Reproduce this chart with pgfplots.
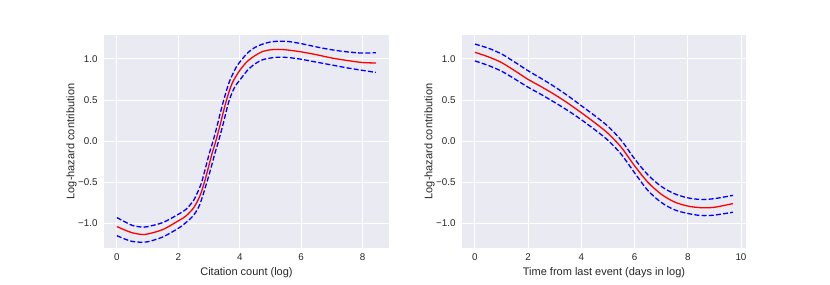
\documentclass[border=0pt]{standalone}
\usepackage{pgfplots}
\pgfplotsset{compat=1.18}
\usepackage{fontspec}
\setmainfont{Liberation Sans}
\definecolor{sbbg}{HTML}{EAEAF2}
\definecolor{sbtext}{HTML}{262626}
\pgfplotsset{sb/.style={
  scale only axis, width=285pt, height=213pt,
  axis background/.style={fill=sbbg},
  axis line style={draw=none},
  major tick length=0pt,
  grid=major, major grid style={white, line width=0.9pt},
  ymin=-1.30, ymax=1.29,
  ytick={-1,-0.5,0,0.5,1}, yticklabels={−1.0,−0.5,0.0,0.5,1.0},
  tick label style={font=\fontsize{9.8}{11}\selectfont, text=sbtext},
  yticklabel style={xshift=-3pt},
  xticklabel style={yshift=-2pt},
  label style={font=\fontsize{11}{13}\selectfont, text=sbtext},
  ylabel={Log-hazard contribution},
  ylabel style={at={(axis description cs:-0.114,0.5)}, anchor=center},
  every axis plot/.append style={line width=1.3pt, smooth},
  est/.style={red},
  ci/.style={blue, dash pattern=on 5pt off 2.2pt},
}}
\begin{document}
\begin{tikzpicture}
\useasboundingbox (0,0) rectangle (830pt,284pt);
\begin{axis}[sb, at={(104pt,36pt)}, anchor=south west,
  xmin=-0.42, xmax=8.86, xtick={0,2,4,6,8}, xticklabels={0,2,4,6,8},
  xlabel={Citation count (log)}]
\addplot[est] coordinates {(0,-1.04) (0.25,-1.08) (0.5,-1.115) (0.8,-1.135) (1.0,-1.13) (1.5,-1.075) (2.0,-0.97) (2.25,-0.91) (2.5,-0.81) (2.7,-0.67) (2.85,-0.50) (3.0,-0.29) (3.1,-0.15) (3.22,0.0) (3.35,0.18) (3.45,0.33) (3.57,0.5) (3.75,0.70) (4.0,0.86) (4.25,0.97) (4.5,1.04) (4.75,1.09) (5.0,1.11) (5.25,1.115) (5.5,1.11) (6.0,1.085) (6.5,1.05) (7.0,1.01) (7.5,0.98) (8.0,0.955) (8.43,0.95)};
\addplot[ci] coordinates {(0,-0.93) (0.25,-0.98) (0.5,-1.025) (0.8,-1.045) (1.0,-1.04) (1.5,-0.99) (2.0,-0.89) (2.25,-0.83) (2.5,-0.72) (2.63,-0.62) (2.76,-0.50) (2.91,-0.29) (3.01,-0.15) (3.13,0.0) (3.26,0.18) (3.36,0.33) (3.48,0.5) (3.66,0.72) (3.9,0.91) (4.0,0.96) (4.25,1.07) (4.5,1.14) (4.75,1.18) (5.0,1.205) (5.3,1.215) (5.6,1.21) (6.0,1.185) (6.5,1.145) (7.0,1.11) (7.5,1.085) (8.0,1.07) (8.43,1.075)};
\addplot[ci] coordinates {(0,-1.15) (0.25,-1.19) (0.5,-1.22) (0.8,-1.23) (1.0,-1.225) (1.5,-1.165) (2.0,-1.06) (2.25,-0.99) (2.5,-0.90) (2.7,-0.77) (2.93,-0.5) (3.09,-0.29) (3.19,-0.15) (3.31,0.0) (3.44,0.18) (3.54,0.33) (3.66,0.5) (3.84,0.66) (4.0,0.74) (4.25,0.86) (4.5,0.94) (4.75,0.99) (5.0,1.01) (5.3,1.02) (5.6,1.015) (6.0,0.995) (6.5,0.96) (7.0,0.925) (7.5,0.89) (8.0,0.86) (8.43,0.835)};
\end{axis}
\begin{axis}[sb, width=284pt, at={(462pt,36pt)}, anchor=south west,
  xmin=-0.485, xmax=10.19, xtick={0,2,4,6,8,10}, xticklabels={0,2,4,6,8,10},
  xlabel={Time from last event (days in log)}]
\addplot[est] coordinates {(0,1.08) (0.5,1.025) (1,0.955) (1.5,0.855) (2,0.75) (2.5,0.66) (3,0.565) (3.5,0.46) (4,0.345) (4.5,0.225) (5,0.095) (5.5,-0.075) (6,-0.30) (6.5,-0.50) (7,-0.645) (7.5,-0.74) (8,-0.79) (8.5,-0.81) (9,-0.805) (9.7,-0.76)};
\addplot[ci] coordinates {(0,1.18) (0.5,1.13) (1,1.06) (1.5,0.96) (2,0.855) (2.5,0.76) (3,0.66) (3.5,0.55) (4,0.43) (4.5,0.31) (5,0.18) (5.5,0.01) (6,-0.215) (6.5,-0.41) (7,-0.55) (7.5,-0.64) (8,-0.69) (8.5,-0.71) (9,-0.70) (9.7,-0.66)};
\addplot[ci] coordinates {(0,0.975) (0.5,0.92) (1,0.85) (1.5,0.755) (2,0.655) (2.5,0.565) (3,0.47) (3.5,0.37) (4,0.26) (4.5,0.14) (5,0.01) (5.5,-0.16) (6,-0.385) (6.5,-0.60) (7,-0.745) (7.5,-0.835) (8,-0.88) (8.5,-0.905) (9,-0.90) (9.7,-0.865)};
\end{axis}
\end{tikzpicture}
\end{document}
